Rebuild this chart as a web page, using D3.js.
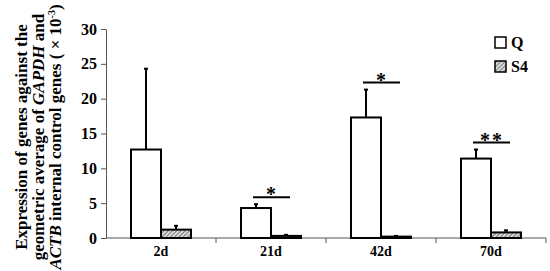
<!DOCTYPE html>
<html>
<head>
<meta charset="utf-8">
<script src="https://cdn.jsdelivr.net/npm/d3@7"></script>
<style>
  body { margin: 0; background: #fff; }
</style>
</head>
<body>
<svg width="550" height="271"></svg>
<script>
// data
let days = ["2d", "21d", "42d", "70d"];
let series = ["Q", "S4"];
let qValues = [12.7, 4.3, 17.3, 11.4];
let qErrors = [11.6, 0.55, 4.0, 1.3];
let s4Values = [1.2, 0.3, 0.2, 0.8];
let s4Errors = [0.55, 0.15, 0.1, 0.3];
let yTicks = [0, 5, 10, 15, 20, 25, 30];
let marks = ["", "*", "*", "**"]; // significance marks per day

let serif = "'Liberation Serif', 'Times New Roman', serif";
let s = d3.select("svg");

let mLeft = 106, mRight = 546, mTop = 29, mBottom = 238;

let x = d3.scaleBand().domain(days).range([mLeft, mRight]);
let inner = d3.scaleBand().domain(series).range([0, 60]);
let y = d3.scaleLinear().domain([0, 30]).range([mBottom, mTop]);

// hatch for S4
let defs = s.append("defs");
let pat = defs.append("pattern")
    .attr("id", "hatch")
    .attr("patternUnits", "userSpaceOnUse")
    .attr("width", 3).attr("height", 3)
    .attr("patternTransform", "rotate(45)");
pat.append("rect").attr("width", 3).attr("height", 3).attr("fill", "#dcdcdc");
pat.append("line").attr("x1", 0).attr("y1", 0).attr("x2", 0).attr("y2", 3)
    .attr("stroke", "#444").attr("stroke-width", 1.3);

// y axis
let yAxis = s.append("g")
    .attr("transform", "translate(" + mLeft + ",0)")
    .call(d3.axisLeft(y).tickValues(yTicks).tickSize(5).tickSizeOuter(0));
yAxis.select(".domain").attr("stroke", "#555").attr("stroke-width", 1);
yAxis.selectAll(".tick line").attr("stroke", "#555");
yAxis.selectAll("text")
    .attr("x", -9)
    .style("font-family", serif)
    .style("font-weight", "bold")
    .style("font-size", "16px")
    .attr("fill", "#000");

// x axis (ticks at band edges)
let xg = s.append("g").attr("transform", "translate(0," + mBottom + ")");
xg.append("line").attr("x1", mLeft).attr("x2", mRight).attr("stroke", "#555");
let edges = days.map(d => x(d)).concat([mRight]);
xg.selectAll(".edge").data(edges.slice(1)).enter().append("line")
    .attr("x1", d => d).attr("x2", d => d)
    .attr("y1", 0).attr("y2", 5)
    .attr("stroke", "#555");
xg.selectAll(".lab").data(days).enter().append("text")
    .attr("x", d => x(d) + x.bandwidth() / 2)
    .attr("y", 18)
    .attr("text-anchor", "middle")
    .style("font-family", serif)
    .style("font-weight", "bold")
    .style("font-size", "14px")
    .text(d => d);

// bars
let groups = s.selectAll(".day").data(days).enter().append("g")
    .attr("transform", d => "translate(" + (x(d) + x.bandwidth() / 2 - 30) + ",0)");

groups.each(function (d, i) {
    let g = d3.select(this);
    let vals = [qValues[i], s4Values[i]];
    let errs = [qErrors[i], s4Errors[i]];
    series.forEach((k, j) => {
        let bx = inner(k);
        let bw = inner.bandwidth();
        let hi = vals[j] + errs[j];
        // error bar
        g.append("line")
            .attr("x1", bx + bw / 2).attr("x2", bx + bw / 2)
            .attr("y1", y(vals[j])).attr("y2", y(hi))
            .attr("stroke", "#000").attr("stroke-width", 2);
        g.append("line")
            .attr("x1", bx + bw / 2 - 2).attr("x2", bx + bw / 2 + 2)
            .attr("y1", y(hi)).attr("y2", y(hi))
            .attr("stroke", "#000").attr("stroke-width", 2);
        g.append("rect")
            .attr("x", bx).attr("width", bw)
            .attr("y", y(vals[j]))
            .attr("height", mBottom - y(vals[j]))
            .attr("fill", j === 0 ? "#fff" : "url(#hatch)")
            .attr("stroke", "#000").attr("stroke-width", 2);
    });
    // significance
    if (marks[i]) {
        let ly = y(qValues[i] + qErrors[i]) - 7;
        g.append("line")
            .attr("x1", 12).attr("x2", 49)
            .attr("y1", ly).attr("y2", ly)
            .attr("stroke", "#000").attr("stroke-width", 2);
        g.append("text")
            .attr("x", 31).attr("y", ly + 4)
            .attr("text-anchor", "middle")
            .style("font-family", serif)
            .style("font-weight", "bold")
            .style("font-size", "20px")
            .style("letter-spacing", "2px")
            .text(marks[i]);
    }
});

// legend
let leg = s.append("g").attr("transform", "translate(495,37)");
series.forEach((k, j) => {
    leg.append("rect")
        .attr("x", 0).attr("y", j * 24)
        .attr("width", 11).attr("height", 11)
        .attr("fill", j === 0 ? "#fff" : "url(#hatch)")
        .attr("stroke", "#000").attr("stroke-width", 1.5);
    leg.append("text")
        .attr("x", 16).attr("y", j * 24 + 11)
        .style("font-family", serif)
        .style("font-weight", "bold")
        .style("font-size", "16px")
        .text(k);
});

// y label, three lines
let ylab = s.append("g").attr("transform", "translate(0,137) rotate(-90)")
    .style("font-family", serif)
    .style("font-weight", "bold")
    .style("font-size", "17px");
let l1 = ylab.append("text").attr("x", 0).attr("y", 27).attr("text-anchor", "middle");
l1.text("Expression of genes against the");
let l2 = ylab.append("text").attr("x", 0).attr("y", 44).attr("text-anchor", "middle");
l2.append("tspan").text("geometric average of ");
l2.append("tspan").style("font-style", "italic").text("GAPDH");
l2.append("tspan").text(" and");
let l3 = ylab.append("text").attr("x", 0).attr("y", 61).attr("text-anchor", "middle");
l3.append("tspan").style("font-style", "italic").text("ACTB");
l3.append("tspan").text("  internal control genes ( \u00d7 10");
l3.append("tspan").attr("dy", -6).style("font-size", "10px").text("-3");
l3.append("tspan").attr("dy", 6).text(")");
</script>
</body>
</html>
